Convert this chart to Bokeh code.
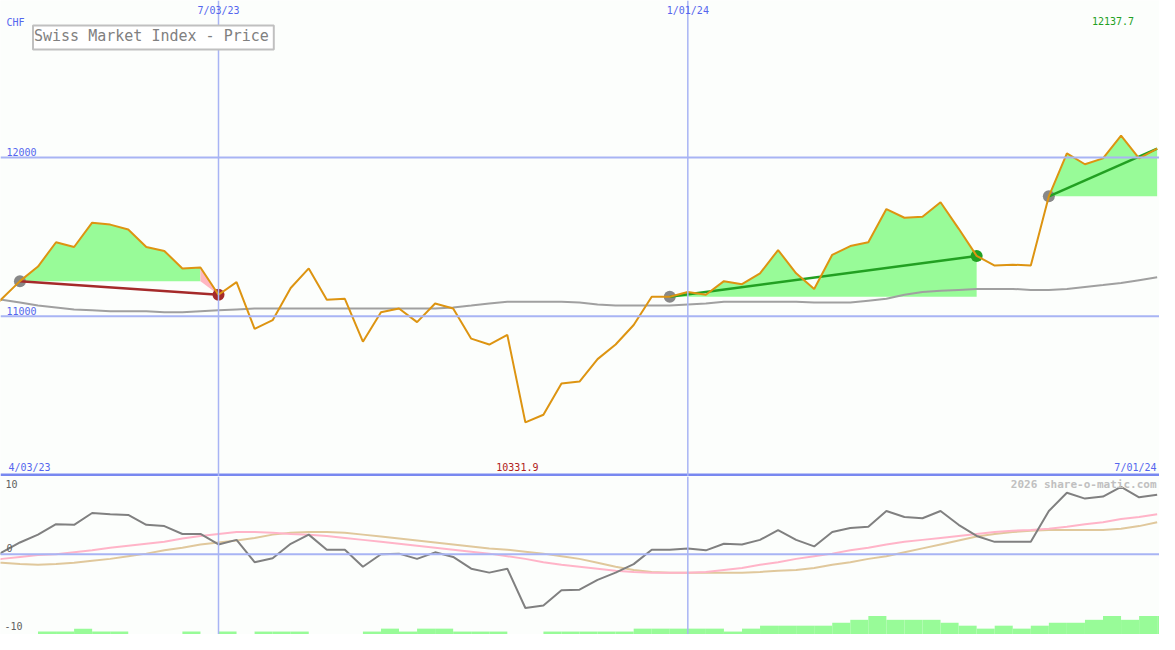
from bokeh.plotting import figure
from bokeh.layouts import column
from bokeh.models import Range1d, Span, Label
from bokeh.embed import file_html
from bokeh.resources import INLINE

# week index relative to 3 Jul 2023 (weekly closes)
weeks = list(range(-13, 53))

price = [10994, 11110, 11221, 11313, 11466, 11436, 11589, 11577, 11546, 11436,
         11411, 11301, 11307, 11135, 11215, 10920, 10975, 11178, 11301, 11104,
         11110, 10840, 11025, 11049, 10963, 11080, 11049, 10859, 10822, 10883,
         10331.9, 10380, 10577, 10589, 10730, 10822, 10945, 11123, 11123, 11153,
         11135, 11221, 11202, 11270, 11417, 11270, 11172, 11387, 11442, 11466,
         11675, 11620, 11626, 11718, 11552, 11380, 11319, 11325, 11319, 11755,
         12025, 11957, 11994, 12137.7, 11994, 12055]

moving_avg = [11117, 11104, 11086, 11067, 11055, 11043, 11037, 11031, 11031, 11031,
              11025, 11025, 11031, 11037, 11043, 11049, 11049, 11049, 11049, 11049,
              11049, 11049, 11049, 11049, 11049, 11049, 11055, 11067, 11080, 11092,
              11092, 11092, 11092, 11086, 11074, 11067, 11067, 11067, 11067, 11074,
              11080, 11092, 11092, 11092, 11092, 11092, 11086, 11086, 11086, 11098,
              11110, 11135, 11153, 11160, 11166, 11172, 11172, 11172, 11166, 11166,
              11172, 11184, 11196, 11209, 11227, 11245]

osc_gray = [-1.8, 0.3, 1.8, 3.0, 4.6, 4.5, 6.3, 6.1, 6.0, 4.5,
            4.3, 3.1, 3.1, 1.5, 2.2, -1.2, -0.6, 1.6, 3.0, 0.7,
            0.7, -1.9, 0.0, 0.1, -0.7, 0.3, -0.4, -2.2, -2.8, -2.2,
            -8.2, -7.8, -5.5, -5.4, -3.9, -2.8, -1.5, 0.7, 0.7, 0.9,
            0.6, 1.6, 1.5, 2.2, 3.7, 2.2, 1.2, 3.4, 4.0, 4.2,
            6.6, 5.7, 5.5, 6.6, 4.5, 2.8, 1.9, 1.9, 1.9, 6.6,
            9.4, 8.5, 8.8, 10.3, 8.7, 9.1]

osc_pink = [-1.2, -0.7, -0.4, -0.1, 0.0, 0.3, 0.6, 1.0, 1.3, 1.6,
            1.9, 2.4, 2.8, 3.1, 3.4, 3.4, 3.3, 3.1, 3.0, 2.8,
            2.5, 2.2, 1.9, 1.6, 1.3, 1.0, 0.7, 0.4, 0.1, -0.3,
            -0.7, -1.2, -1.6, -1.9, -2.2, -2.5, -2.7, -2.8, -2.8, -2.8,
            -2.7, -2.4, -2.1, -1.6, -1.2, -0.7, -0.3, 0.1, 0.6, 1.0,
            1.5, 1.9, 2.2, 2.5, 2.8, 3.1, 3.4, 3.6, 3.7, 3.9,
            4.2, 4.6, 4.9, 5.4, 5.7, 6.1]

osc_tan = [-1.2, -1.3, -1.5, -1.6, -1.5, -1.3, -1.0, -0.7, -0.3, 0.1,
           0.6, 1.0, 1.5, 1.8, 2.1, 2.5, 3.0, 3.3, 3.4, 3.4,
           3.3, 3.0, 2.7, 2.4, 2.1, 1.8, 1.5, 1.2, 0.9, 0.7,
           0.4, 0.1, -0.3, -0.7, -1.3, -1.9, -2.4, -2.7, -2.8, -2.8,
           -2.8, -2.8, -2.8, -2.7, -2.5, -2.4, -2.1, -1.6, -1.2, -0.7,
           -0.3, 0.3, 0.9, 1.5, 2.1, 2.7, 3.1, 3.4, 3.6, 3.7,
           3.7, 3.7, 3.7, 3.9, 4.3, 4.9]

volume = [0, 0, 0, 1, 1, 2, 1, 1, 0, 0,
          0, 1, 0, 1, 0, 1, 1, 1, 0, 0,
          0, 1, 2, 1, 2, 2, 1, 1, 1, 0,
          0, 1, 1, 1, 1, 1, 2, 2, 2, 2,
          2, 1, 2, 3, 3, 3, 3, 4, 5, 6.3,
          5, 5, 5, 4, 3, 2, 3, 2, 3, 4,
          4, 5, 6.3, 5, 6.3, 6.3]

date_ticks = [0, 26]
date_labels = ["7/03/23", "1/01/24"]
price_ticks = [12000, 11000]
range_labels = ["4/03/23", "7/01/24"]
osc_labels = ["10", "0", "-10"]
# trend periods (start week, end week)
trends = [(-11, 0), (25, 42), (46, 52)]

W = 1159
H1 = 476
H2 = 158
BG = "#fcfefc"
BLUE_TXT = "#5566ee"
GRID = "#a8b4f4"
FONT = "DejaVu Sans Mono"

xr = Range1d(-12.077, 52.13)


def base_fig(h, yr):
    f = figure(width=W, height=h, x_range=xr, y_range=yr, output_backend="svg",
               toolbar_location=None, min_border=0, x_axis_location=None,
               y_axis_location=None, background_fill_color=BG, border_fill_color=BG)
    f.grid.visible = False
    f.outline_line_color = None
    return f


p1 = base_fig(H1, Range1d(9991, 12988))
p2 = base_fig(H2, Range1d(-12.24, 11.87))
p2.extra_y_ranges = {"vol": Range1d(0, 53.8)}

# grid lines
for v in price_ticks:
    p1.add_layout(Span(location=v, dimension="width", line_color=GRID, line_width=2))
p1.add_layout(Span(location=10000, dimension="width", line_color="#7888f0", line_width=3))
p2.add_layout(Span(location=0, dimension="width", line_color=GRID, line_width=2))
for d in date_ticks:
    p1.add_layout(Span(location=d, dimension="height", line_color=GRID, line_width=1.5))
    p2.add_layout(Span(location=d, dimension="height", line_color=GRID, line_width=1.5))

idx = {w: k for k, w in enumerate(weeks)}

# fills
for (a, b) in trends:
    ia, ib = idx[a], idx[b]
    base = price[ia]
    gain = price[ib] >= base
    if gain:
        xs = weeks[ia:ib + 1]
        ys = price[ia:ib + 1]
        p1.varea(x=xs, y1=[base] * len(xs), y2=ys, fill_color="#98fb98")
    else:
        xs = weeks[ia:ib]
        ys = price[ia:ib]
        p1.varea(x=xs, y1=[base] * len(xs), y2=ys, fill_color="#98fb98")
        xs2 = weeks[ib - 1:ib + 1]
        ys2 = price[ib - 1:ib + 1]
        p1.varea(x=xs2, y1=[base, price[ib]], y2=ys2, fill_color="#ffb6c1")

# moving average
p1.line(weeks, moving_avg, line_color="#a0a0a0", line_width=2)

# trend lines and markers
for (a, b) in trends:
    ia, ib = idx[a], idx[b]
    gain = price[ib] >= price[ia]
    col = "#22a022" if gain else "#a52a2a"
    p1.scatter([a], [price[ia]], size=12, fill_color="#888888", line_color=None)
    if b != weeks[-1]:
        p1.scatter([b], [price[ib]], size=12, fill_color=col, line_color=None)
    p1.line([a, b], [price[ia], price[ib]], line_color=col, line_width=2.5)

# price
p1.line(weeks, price, line_color="#dd9411", line_width=2)

# lower panel
p2.quad(left=weeks, right=[w + 1 for w in weeks], bottom=0, top=volume,
        fill_color="#98fb98", line_color=None, y_range_name="vol")
p2.line(weeks, osc_tan, line_color="#e0c89c", line_width=2)
p2.line(weeks, osc_pink, line_color="#ffb4c8", line_width=2)
p2.line(weeks, osc_gray, line_color="#808080", line_width=2)


def lab(fig, text, x, y, xu="data", yu="data", align="left", base="middle",
        xo=0, yo=0, color=BLUE_TXT, size="10px", style="normal"):
    fig.add_layout(Label(text=text, x=x, y=y, x_units=xu, y_units=yu, text_align=align,
                         text_baseline=base, x_offset=xo, y_offset=yo, text_color=color,
                         text_font=FONT, text_font_size=size, text_font_style=style))


TOP1 = 12988
for d, t in zip(date_ticks, date_labels):
    lab(p1, t, d, TOP1, align="center", base="top", yo=-4)
lab(p1, "CHF", 6, TOP1, xu="screen", base="top", yo=-16)
imax = price.index(max(price))
imin = price.index(min(price))
lab(p1, f"{max(price):.1f}", weeks[imax], TOP1, align="center", base="top", xo=-8, yo=-16,
    color="#22a022")
for v in price_ticks:
    lab(p1, str(v), 6, v, xu="screen", yo=5)
lab(p1, range_labels[0], 8, 10000, xu="screen", yo=8)
lab(p1, f"{min(price):.1f}", weeks[imin], 10000, align="center", xo=-8, yo=8, color="#b02020")
lab(p1, range_labels[1], 1156, 10000, xu="screen", align="right", yo=8)

p1.add_layout(Label(text="Swiss Market Index - Price", x=32.5, y=H1 - 37, x_units="screen",
                    y_units="screen", text_align="left", text_baseline="middle",
                    text_font=FONT, text_font_size="15px", text_color="#808080",
                    border_line_color="#c0c0c0", border_line_width=2,
                    background_fill_color="#ffffff", padding=(1, 5, 1, 5)))

TOP2 = 11.87
lab(p2, osc_labels[0], 5, TOP2, xu="screen", yo=-7, color="#606060")
lab(p2, osc_labels[1], 6, 0, xu="screen", yo=6, color="#606060")
lab(p2, osc_labels[2], 4, -12.24, xu="screen", yo=8.5, color="#606060")
lab(p2, "2026 share-o-matic.com", 1156, TOP2, xu="screen", align="right", yo=-7.5,
    color="#c0c0c0", size="11px", style="bold")

layout = column(p1, p2, spacing=0)
open("out.html", "w").write(file_html(layout, INLINE))
